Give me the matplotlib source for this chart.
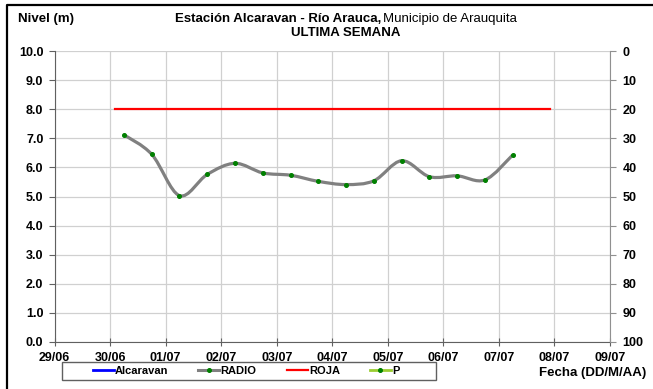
import matplotlib
matplotlib.use("Agg")
from matplotlib import pyplot as plt
from matplotlib.path import Path
from matplotlib.patches import PathPatch, Rectangle
from matplotlib.lines import Line2D
import matplotlib.dates as mdates
from datetime import datetime

plt.rcParams['font.family'] = ['Liberation Sans', 'DejaVu Sans']

# datos: lecturas RADIO (dos por dia)
radio_t = ["2014-06-30 06:00", "2014-06-30 18:00", "2014-07-01 06:00", "2014-07-01 18:00",
           "2014-07-02 06:00", "2014-07-02 18:00", "2014-07-03 06:00", "2014-07-03 18:00",
           "2014-07-04 06:00", "2014-07-04 18:00", "2014-07-05 06:00", "2014-07-05 18:00",
           "2014-07-06 06:00", "2014-07-06 18:00", "2014-07-07 06:00"]
radio_v = [7.12, 6.45, 5.03, 5.76, 6.14, 5.81, 5.73, 5.52, 5.41, 5.54, 6.23, 5.68, 5.71, 5.57, 6.43]

# umbral rojo
roja_t = ["2014-06-30 02:00", "2014-07-07 22:00"]
roja_v = [8.0, 8.0]

x_min, x_max = "2014-06-29", "2014-07-09"

to_num = lambda s: mdates.date2num(datetime.fromisoformat(s))
rx = [to_num(s) for s in radio_t]

fig = plt.figure(figsize=(6.53, 3.89), dpi=100)
ax = fig.add_axes([54.5/653, 1-342/389, (610-54.5)/653, (342-51)/389])

# linea suavizada tipo Excel (bezier catmull-rom)
pts = list(zip(rx, radio_v))
verts = [pts[0]]
codes = [Path.MOVETO]
for i in range(len(pts)-1):
    p0 = pts[i-1] if i > 0 else pts[i]
    p1 = pts[i]
    p2 = pts[i+1]
    p3 = pts[i+2] if i+2 < len(pts) else pts[i+1]
    c1 = (p1[0] + (p2[0]-p0[0])/6, p1[1] + (p2[1]-p0[1])/6)
    c2 = (p2[0] - (p3[0]-p1[0])/6, p2[1] - (p3[1]-p1[1])/6)
    verts += [c1, c2, p2]
    codes += [Path.CURVE4]*3
ax.add_patch(PathPatch(Path(verts, codes), fill=False, edgecolor="#808080", lw=2.3, zorder=3))
ax.plot(rx, radio_v, ls="none", marker="o", ms=2.6, mfc="#008000", mec="#008000", zorder=4)

ax.plot([to_num(s) for s in roja_t], roja_v, color="#FF0000", lw=1.6, zorder=3)

ax.set_xlim(to_num(x_min), to_num(x_max))
ax.set_ylim(0, 10)
ax.set_yticks([i for i in range(11)])
ax.set_yticklabels(["%.1f" % i for i in range(11)])
ax.xaxis.set_major_locator(mdates.DayLocator())
ax.xaxis.set_major_formatter(mdates.DateFormatter("%d/%m"))
ax.grid(True, color="#D0D0D0", lw=0.9)
ax.set_axisbelow(True)
ax.tick_params(axis="x", direction="inout", length=6, pad=4, colors="#606060",
               labelcolor="black", labelsize=9)
ax.tick_params(axis="y", direction="out", length=4, pad=4, colors="#606060",
               labelcolor="black", labelsize=9)
for lb in ax.get_xticklabels() + ax.get_yticklabels():
    lb.set_fontweight("bold")
ax.spines["top"].set_visible(False)
ax.spines["right"].set_visible(False)
ax.spines["left"].set_color("#606060")
ax.spines["bottom"].set_color("#606060")

# eje secundario P (invertido)
ax2 = ax.twinx()
ax2.set_ylim(100, 0)
ax2.set_yticks([i*10 for i in range(11)])
ax2.plot([], [], color="#9ACD32", lw=2, marker="o", ms=2.6, mfc="#008000", mec="#008000")
ax2.tick_params(axis="y", direction="out", length=4, pad=5, colors="#909090",
                labelcolor="black", labelsize=9)
for lb in ax2.get_yticklabels():
    lb.set_fontweight("bold")
for s in ["top", "left", "bottom"]:
    ax2.spines[s].set_visible(False)
ax2.spines["right"].set_color("#909090")

handles = [Line2D([], [], color="#0000FF", lw=2),
           Line2D([], [], color="#808080", lw=2.2, marker="o", ms=2.6, mfc="#008000", mec="#008000"),
           Line2D([], [], color="#FF0000", lw=1.6),
           Line2D([], [], color="#9ACD32", lw=2, marker="o", ms=2.6, mfc="#008000", mec="#008000")]
leg = fig.legend(handles, ["Alcaravan", "RADIO", "ROJA", "P"], ncol=4, loc="center",
                 bbox_to_anchor=(246/653, 1-371/389), prop={"weight": "bold", "size": 8},
                 frameon=False, handlelength=1.9, handletextpad=0.1, columnspacing=2.7,
                 borderpad=0.2)
fig.add_artist(Rectangle((62/653, 1-380/389), 374/653, 18/389, transform=fig.transFigure,
                         fill=False, edgecolor="#606060", lw=1))

fig.text(18/653, 1-19/389, "Nivel (m)", fontsize=9.5, fontweight="bold", va="center", ha="left")
fig.text(381/653, 1-19/389, "Estación Alcaravan - Río Arauca,", fontsize=9.5, fontweight="bold",
         va="center", ha="right")
fig.text(383/653, 1-19/389, "Municipio de Arauquita", fontsize=9.5, va="center", ha="left")
fig.text(346/653, 1-32.5/389, "ULTIMA SEMANA", fontsize=9.5, fontweight="bold", va="center", ha="center")
fig.text(646/653, 1-372.7/389, "Fecha (DD/M/AA)", fontsize=9.5, fontweight="bold", va="center", ha="right")

# marco exterior
fig.add_artist(Line2D([6.7/653, 6.7/653, 1.01], [-0.01, 1-5.3/389, 1-5.3/389],
                      transform=fig.transFigure, color="black", lw=1.6))

plt.savefig("out.png", dpi=100)
